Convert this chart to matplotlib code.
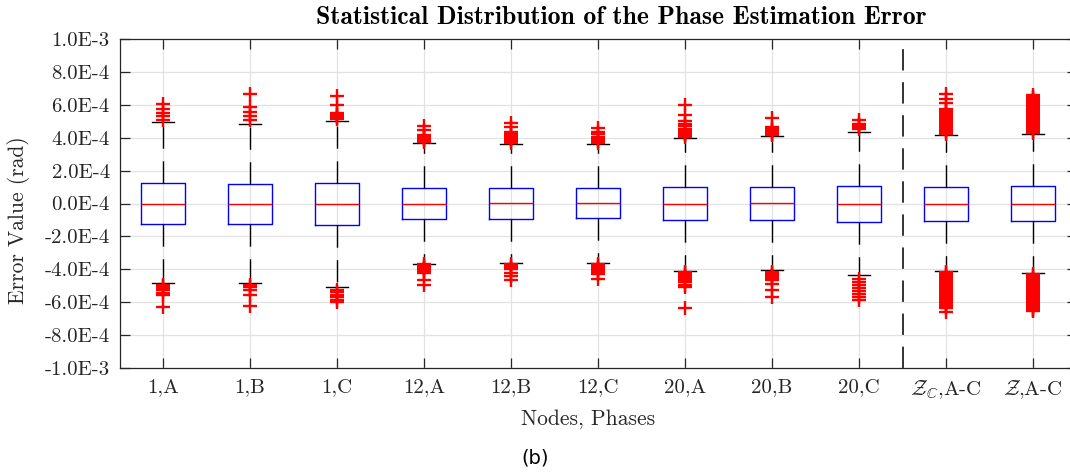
import matplotlib
matplotlib.use("Agg")
import matplotlib.pyplot as plt

plt.rcParams['font.family'] = 'cmr10'
plt.rcParams['mathtext.fontset'] = 'cm'
plt.rcParams['axes.formatter.use_mathtext'] = True

# box statistics per node/phase, in units of 1E-4 rad
SCALE = 1e-4
labels = ['1,A', '1,B', '1,C', '12,A', '12,B', '12,C', '20,A', '20,B', '20,C',
          r'$\mathcal{Z}_{\mathbb{C}}$,A-C', r'$\mathcal{Z}$,A-C']
q1 = [-1.23, -1.23, -1.30, -0.94, -0.94, -0.91, -1.02, -1.02, -1.12, -1.04, -1.08]
q3 = [1.22, 1.20, 1.26, 0.92, 0.92, 0.92, 1.02, 1.02, 1.08, 1.02, 1.06]
med = [0.0, 0.0, 0.0, -0.02, 0.03, 0.01, 0.0, 0.05, 0.0, 0.0, 0.0]
whislo = [-4.85, -4.84, -5.08, -3.65, -3.63, -3.59, -4.09, -4.07, -4.33, -4.13, -4.23]
whishi = [4.95, 4.86, 5.04, 3.68, 3.63, 3.63, 4.01, 4.09, 4.35, 4.19, 4.25]

fliers_hi = [
    [5.06, 5.3, 5.53, 5.77, 6.03],
    [5.06, 5.32, 5.56, 5.87, 6.64],
    [5.15, 5.22, 5.28, 5.35, 5.42, 5.48, 6.01, 6.53],
    [3.75, 3.85, 3.95, 4.05, 4.15, 4.45, 4.72],
    [3.7, 3.8, 3.9, 4.0, 4.1, 4.2, 4.35, 4.65, 4.9],
    [3.7, 3.8, 3.9, 4.05, 4.2, 4.35, 4.56],
    [4.05, 4.15, 4.25, 4.35, 4.45, 4.55, 4.7, 4.85, 5.0, 5.36, 5.97],
    [4.15, 4.25, 4.35, 4.45, 4.55, 4.65, 5.2],
    [4.55, 4.65, 4.75, 4.85, 5.06],
    [4.25, 4.35, 4.45, 4.55, 4.65, 4.75, 4.85, 4.95, 5.05, 5.15, 5.25, 5.35,
     5.45, 5.55, 5.65, 5.75, 6.11, 6.38, 6.64],
    [4.3, 4.4, 4.5, 4.6, 4.7, 4.8, 4.9, 5.0, 5.1, 5.2, 5.3, 5.4, 5.5, 5.6,
     5.7, 5.8, 5.9, 6.0, 6.1, 6.2, 6.3, 6.4, 6.5, 6.6],
]
fliers_lo = [
    [-4.95, -5.04, -5.16, -5.28, -5.42, -5.55, -6.32],
    [-4.94, -5.1, -5.24, -5.55, -6.25],
    [-5.24, -5.4, -5.55, -5.7, -5.85, -6.01],
    [-3.7, -3.8, -3.9, -4.0, -4.1, -4.2, -4.64, -4.98],
    [-3.7, -3.8, -3.9, -4.0, -4.2, -4.4, -4.64],
    [-3.65, -3.79, -3.9, -4.03, -4.15, -4.27, -4.58],
    [-4.15, -4.25, -4.35, -4.45, -4.55, -4.65, -4.8, -4.95, -5.1, -6.35],
    [-4.15, -4.25, -4.35, -4.45, -4.55, -4.65, -4.88, -5.28, -5.69],
    [-4.58, -4.76, -4.94, -5.12, -5.3, -5.49, -5.67, -5.85],
    [-4.15, -4.25, -4.35, -4.45, -4.55, -4.65, -4.75, -4.85, -4.95, -5.05,
     -5.15, -5.25, -5.35, -5.45, -5.55, -5.65, -5.75, -5.85, -5.95, -6.05,
     -6.15, -6.25, -6.35, -6.6],
    [-4.3, -4.4, -4.5, -4.6, -4.7, -4.8, -4.9, -5.0, -5.1, -5.2, -5.3, -5.4,
     -5.5, -5.6, -5.7, -5.8, -5.9, -6.0, -6.1, -6.2, -6.3, -6.4, -6.5, -6.55],
]

ytick_vals = [-10, -8, -6, -4, -2, 0, 2, 4, 6, 8, 10]
ytick_labels = ['-1.0E-3', '-8.0E-4', '-6.0E-4', '-4.0E-4', '-2.0E-4', '0.0E-4',
                '2.0E-4', '4.0E-4', '6.0E-4', '8.0E-4', '1.0E-3']

stats = []
for i, lab in enumerate(labels):
    stats.append(dict(
        label=lab,
        q1=q1[i] * SCALE, q3=q3[i] * SCALE, med=med[i] * SCALE,
        whislo=whislo[i] * SCALE, whishi=whishi[i] * SCALE,
        fliers=[v * SCALE for v in fliers_hi[i] + fliers_lo[i]],
    ))

fig = plt.figure(figsize=(10.7, 4.73), dpi=100)
ax = fig.add_axes([119.5 / 1070, 105 / 473, 957 / 1070, 329 / 473])

positions = list(range(1, len(labels) + 1))
ax.bxp(stats, positions=positions, widths=0.5, capwidths=0.25,
       boxprops=dict(color='#0000ff', lw=1.0),
       medianprops=dict(color='#ff0000', lw=1.0),
       whiskerprops=dict(color='black', lw=1.0, ls=(0, (16, 9))),
       capprops=dict(color='black', lw=1.0),
       flierprops=dict(marker='+', markeredgecolor='#ff0000',
                       markersize=9.5, markeredgewidth=1.7))

# separator between per-phase results and the aggregated ones
ax.axvline(9.5, color='#333333', lw=1.4, ls=(0, (11, 6)), zorder=3)

ax.set_xlim(0.5, len(labels) + 0.5)
ax.set_ylim(-1e-3, 1e-3)
ax.set_xticks(positions)
ax.set_xticklabels(labels)
ax.set_yticks([v * SCALE for v in ytick_vals])
ax.set_yticklabels(ytick_labels)

ax.grid(True, color='#e2e2e2', lw=0.9)
ax.set_axisbelow(True)
ax.tick_params(direction='in', length=7, width=0.9, top=True, right=True,
               colors='#262626', labelsize=15, pad=7)
for s in ax.spines.values():
    s.set_color('#262626')
    s.set_linewidth(0.9)

ax.set_xlabel('Nodes, Phases', fontsize=15.5, color='#262626')
ax.xaxis.set_label_coords(0.49, -0.125)
ax.set_ylabel('Error Value (rad)', fontsize=15.5, color='#262626')
ax.yaxis.set_label_coords(-0.093, 0.45)

fig.text(621 / 1070, 1 - 18 / 473, 'Statistical Distribution of the Phase Estimation Error',
         family='cmb10', fontsize=18.5, ha='center', va='center')
fig.text(535 / 1070, 1 - 458 / 473, '(b)', family='DejaVu Sans', fontsize=14,
         ha='center', va='center')

fig.savefig('out.png', dpi=100)
